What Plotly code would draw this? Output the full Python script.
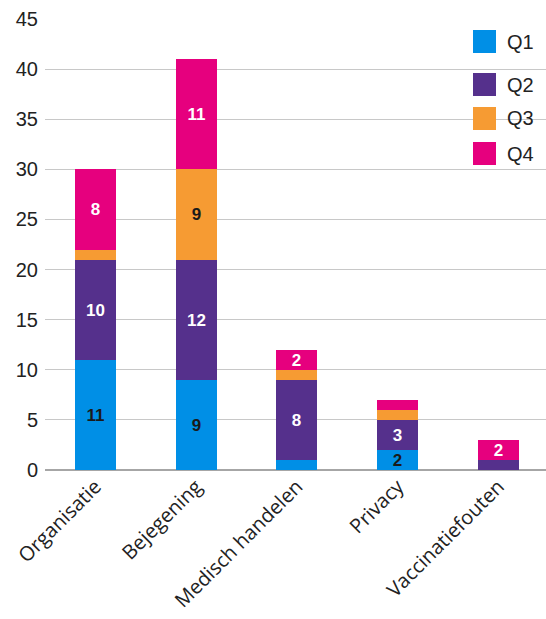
import plotly.graph_objects as go

categories = ["Organisatie", "Bejegening", "Medisch handelen", "Privacy", "Vaccinatiefouten"]
series_names = ["Q1", "Q2", "Q3", "Q4"]
q1 = [11, 9, 1, 2, 0]
q2 = [10, 12, 8, 3, 1]
q3 = [1, 9, 1, 1, 0]
q4 = [8, 11, 2, 1, 2]
y_ticks = [0, 5, 10, 15, 20, 25, 30, 35, 40, 45]

colors = ["#008fe6", "#55308c", "#f69b33", "#e6007e"]
label_colors = ["#1a1a1a", "#ffffff", "#1a1a1a", "#ffffff"]

W, H = 546, 619
ML, MR, MT, MB = 45, 0, 19, 149


def px(x):
    return (x - ML) / (W - ML - MR)


def py(y):
    return (H - MB - y) / (H - MT - MB)


fig = go.Figure()
for name, vals, col, lcol in zip(series_names, [q1, q2, q3, q4], colors, label_colors):
    fig.add_trace(go.Bar(
        x=categories, y=vals, name=name,
        marker=dict(color=col, line=dict(width=0)),
        width=0.407,
        text=[str(v) if v >= 2 else "" for v in vals],
        textposition="inside", insidetextanchor="middle",
        textangle=0,
        textfont=dict(family="Liberation Sans", size=17, color=lcol, weight="bold"),
        showlegend=False,
    ))

# legend: coloured squares with series names
legend_tops = [30, 73, 107, 142]
shapes = []
annotations = []
for name, col, top in zip(series_names, colors, legend_tops):
    shapes.append(dict(type="rect", xref="paper", yref="paper",
                       x0=px(473), x1=px(496), y0=py(top + 23), y1=py(top),
                       fillcolor=col, line=dict(width=0)))
    annotations.append(dict(xref="paper", yref="paper", x=px(505), y=py(top + 11.5),
                            text=name, showarrow=False, xanchor="left", yanchor="middle",
                            font=dict(family="Liberation Sans", size=20, color="#222222")))

fig.update_layout(
    width=W, height=H,
    margin=dict(l=ML, r=MR, t=MT, b=MB),
    paper_bgcolor="white", plot_bgcolor="white",
    barmode="stack",
    bargap=0,
    shapes=shapes,
    annotations=annotations,
    uniformtext=dict(minsize=17, mode="show"),
    xaxis=dict(
        range=[-0.501, 4.472],
        tickangle=-45,
        tickfont=dict(family="Open Sans", size=20, color="#222222"),
        showgrid=False, ticks="", showline=False, zeroline=False,
    ),
    yaxis=dict(
        range=[0, 45], tickvals=y_ticks,
        tickfont=dict(family="Liberation Sans", size=20, color="#222222"),
        showgrid=True, gridcolor="#c8c8c8", gridwidth=1,
        zeroline=True, zerolinecolor="#a6a6a6", zerolinewidth=2,
        ticks="", ticklabelstandoff=6, showline=False,
    ),
)

fig.write_html("out.html")
